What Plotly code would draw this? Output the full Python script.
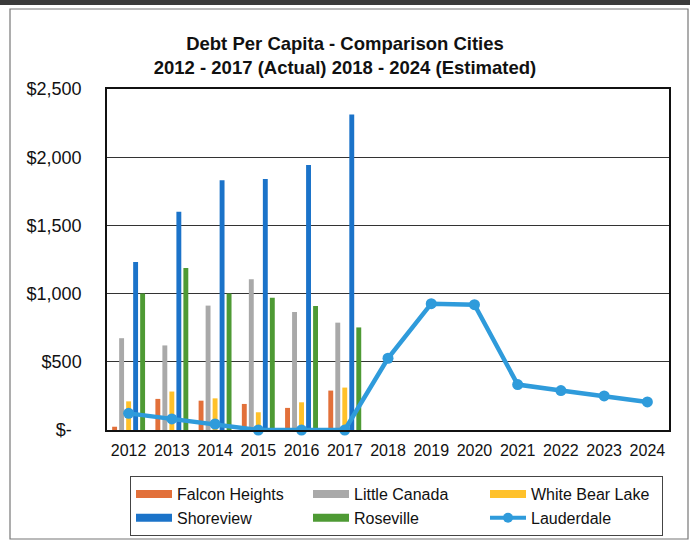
import plotly.graph_objects as go

# Years on the category axis
years = ["2012", "2013", "2014", "2015", "2016", "2017",
         "2018", "2019", "2020", "2021", "2022", "2023", "2024"]
actual_years = years[:6]

# Debt per capita (actual), comparison cities
falcon_heights = [24, 228, 215, 191, 162, 289]
little_canada = [673, 620, 912, 1105, 865, 787]
white_bear_lake = [210, 282, 232, 130, 203, 311]
shoreview = [1232, 1600, 1831, 1840, 1943, 2313]
roseville = [1000, 1188, 1000, 970, 909, 752]

# Lauderdale: actual 2012-2017, estimated 2018-2024
lauderdale = [122, 81, 44, 0, 0, 0, 526, 926, 919, 333, 289, 250, 206]

y_tickvals = [0, 500, 1000, 1500, 2000, 2500]
y_ticktext = ["$-\u00a0\u00a0", "$500", "$1,000", "$1,500", "$2,000", "$2,500"]

FONT = "Liberation Sans, Arial, sans-serif"

bar_series = [
    ("Falcon Heights", falcon_heights, "#E2703A"),
    ("Little Canada", little_canada, "#A9A9A9"),
    ("White Bear Lake", white_bear_lake, "#FFC12A"),
    ("Shoreview", shoreview, "#1B73C9"),
    ("Roseville", roseville, "#4E9A34"),
]
line_color = "#2F9BDB"

fig = go.Figure()

for name, vals, color in bar_series:
    fig.add_trace(go.Bar(
        x=actual_years, y=vals, name=name, marker_color=color,
        marker_line_width=0, showlegend=False, legendgroup=name,
    ))

fig.add_trace(go.Scatter(
    x=years, y=lauderdale, name="Lauderdale", mode="lines+markers",
    line=dict(color=line_color, width=4.5),
    marker=dict(color=line_color, size=11),
    cliponaxis=False, showlegend=False, legendgroup="Lauderdale",
))

# Legend entries: wide swatches for the bar series, line+marker for Lauderdale
legend_order = ["Falcon Heights", "Little Canada", "White Bear Lake",
                "Shoreview", "Roseville", "Lauderdale"]
colors = {n: c for n, _, c in bar_series}
for name in legend_order:
    if name == "Lauderdale":
        fig.add_trace(go.Scatter(
            x=[None], y=[None], name=name, mode="lines+markers",
            line=dict(color=line_color, width=4),
            marker=dict(color=line_color, size=10), legendgroup=name,
        ))
    else:
        fig.add_trace(go.Scatter(
            x=[None], y=[None], name=name, mode="lines",
            line=dict(color=colors[name], width=8), legendgroup=name,
        ))

L, R, T, B = 107, 21, 89, 118
W, H = 690, 548
pw, ph = W - L - R, H - T - B

def px_x(px):
    return (px - L) / pw

def px_y(py):
    return (H - B - py) / ph

fig.update_layout(
    width=W, height=H,
    margin=dict(l=L, r=R, t=T, b=B, autoexpand=False),
    paper_bgcolor="white", plot_bgcolor="white",
    font=dict(family=FONT, color="#111111", size=16),
    title=dict(
        text="Debt Per Capita - Comparison Cities<br>2012 - 2017 (Actual) 2018 - 2024 (Estimated)",
        x=0.5, xref="container", xanchor="center",
        y=1 - 49.5 / H, yref="container", yanchor="middle",
        font=dict(family=FONT, size=18.5, color="#111111", weight="bold"),
    ),
    barmode="group", bargap=0.19, bargroupgap=0.3,
    legend=dict(
        orientation="h", xref="paper", yref="paper",
        x=px_x(130), xanchor="left", y=px_y(476), yanchor="top",
        bgcolor="white", bordercolor="#444444", borderwidth=1,
        font=dict(family=FONT, size=16, color="#111111"),
        itemwidth=36, entrywidth=126, entrywidthmode="pixels",
        traceorder="normal", itemclick=False,
    ),
    xaxis=dict(
        type="category", categoryorder="array", categoryarray=years,
        range=[-0.5, len(years) - 0.5],
        showline=True, linecolor="#111111", linewidth=1.5, mirror=True,
        showgrid=False, ticks="", tickfont=dict(size=16),
        ticklabelstandoff=5,
    ),
    yaxis=dict(
        range=[0, 2500], tickvals=y_tickvals, ticktext=y_ticktext,
        showline=True, linecolor="#111111", linewidth=1.5, mirror=True,
        showgrid=True, gridcolor="#333333", gridwidth=1,
        zeroline=False, ticks="", tickfont=dict(size=18),
        ticklabelstandoff=20,
    ),
    shapes=[
        # outer frame around the whole chart
        dict(type="rect", xref="paper", yref="paper",
             x0=px_x(10), x1=px_x(688), y0=px_y(539), y1=px_y(9),
             line=dict(color="#777777", width=1.2), layer="below"),
        # dark band along the top edge
        dict(type="rect", xref="paper", yref="paper",
             x0=px_x(0), x1=px_x(690), y0=px_y(5), y1=px_y(0),
             line=dict(width=0), fillcolor="#3a3a3a", layer="below"),
    ],
)

fig.write_html("out.html")
